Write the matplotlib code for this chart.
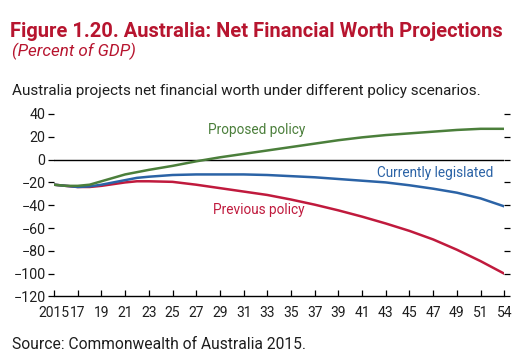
#!/usr/bin/env python3
# -*- coding: utf-8 -*-

import numpy as np
import matplotlib
matplotlib.use('Agg')
import matplotlib.pyplot as plt

#--------------------------------------------------------------------
#                              data
#--------------------------------------------------------------------
# fiscal years, shown on a 2-year tick spacing
years = [2015, 2016, 2017, 2018, 2019, 2020, 2021, 2022, 2023, 2025,
         2027, 2029, 2031, 2033, 2035, 2037, 2039, 2041, 2043, 2045,
         2047, 2049, 2051, 2053]

proposed = [-22, -23, -23, -22, -19, -16, -13, -11, -9, -5.5,
            -1.5, 2, 5, 8, 11, 14, 17, 19.5, 21.5, 23,
            24.5, 26, 27, 27]
legislated = [-22, -23, -24, -23.5, -22, -20, -18, -16, -15, -13.5,
              -13, -13, -13, -13.5, -14.5, -15.5, -17, -18.5, -20, -22.5,
              -25.5, -29, -34, -41]
previous = [-22, -23, -24, -24, -23, -21.5, -20, -19, -19, -19.5,
            -22, -25, -28, -31, -35, -39.5, -44.5, -50, -56, -62.5,
            -70, -79, -89, -100]

tick_years = list(range(2015, 2052, 2)) + [2053]
tick_labels = ['2015'] + [str(y)[2:] for y in range(2017, 2052, 2)] + ['54']
y_ticks = [40, 20, 0, -20, -40, -60, -80, -100, -120]

GREEN = '#4b7f3b'
BLUE = '#2b63a6'
RED = '#c01a3d'
TITLE_RED = '#b7152f'
TEXT = '#1e1e1e'

#--------------------------------------------------------------------
#                              plot
#--------------------------------------------------------------------
plt.rcParams['font.family'] = ['Roboto', 'DejaVu Sans']

fig = plt.figure(figsize=(5.26, 3.6), dpi=100)
ax = fig.add_axes([0.1027, 0.1764, 0.856, 0.507])

ax.plot(years, previous, color=RED, lw=1.8)
ax.plot(years, legislated, color=BLUE, lw=1.8)
ax.plot(years, proposed, color=GREEN, lw=1.8)
ax.axhline(0, color='black', lw=1.0, zorder=1)

ax.set_xlim(2015, 2053)
ax.set_ylim(-120, 40)

ax.set_xticks(tick_years)
ax.set_xticklabels(tick_labels, fontsize=10, color=TEXT)
ax.set_yticks(y_ticks)
ax.set_yticklabels([str(v).replace('-', '\u2212') for v in y_ticks],
                   fontsize=10.3, color=TEXT)

for s in ['top', 'left', 'right']:
    ax.spines[s].set_visible(False)
ax.spines['bottom'].set_linewidth(1.0)

ax.tick_params(axis='x', direction='in', length=4, width=0.9, pad=7)
ax.tick_params(axis='y', direction='out', length=4.5, width=0.9, pad=1.5,
               right=True, left=True)

# line labels
ax.text(2032.1, 25.8, 'Proposed policy', color=GREEN, fontsize=9.8,
        ha='center', va='center')
ax.text(2052.1, -11.4, 'Currently legislated', color=BLUE, fontsize=9.8,
        ha='right', va='center')
ax.text(2032.3, -44.5, 'Previous policy', color=RED, fontsize=9.8,
        ha='center', va='center')

# titles
title = fig.text(0.019, 0.897, 'Figure 1.20. Australia: Net Financial Worth Projections',
                 color=TITLE_RED, fontsize=14, fontweight='bold', va='baseline')
subtitle = fig.text(0.023, 0.844, '(Percent of GDP)', color=TITLE_RED,
                    fontsize=11, style='italic', va='baseline')
desc = fig.text(0.023, 0.736,
                'Australia projects net financial worth under different policy scenarios.',
                color=TEXT, fontsize=10.5, va='baseline')
source = fig.text(0.023, 0.031, 'Source: Commonwealth of Australia 2015.',
                  color=TEXT, fontsize=10, va='baseline')

# squeeze the header texts to the widths they take in the original
renderer = fig.canvas.get_renderer()
for t, width_px in [(title, 495), (subtitle, 124), (desc, 471), (source, 293)]:
    w = t.get_window_extent(renderer).width
    t.set_fontsize(t.get_fontsize() * width_px / w)

fig.savefig('out.png', dpi=100)
